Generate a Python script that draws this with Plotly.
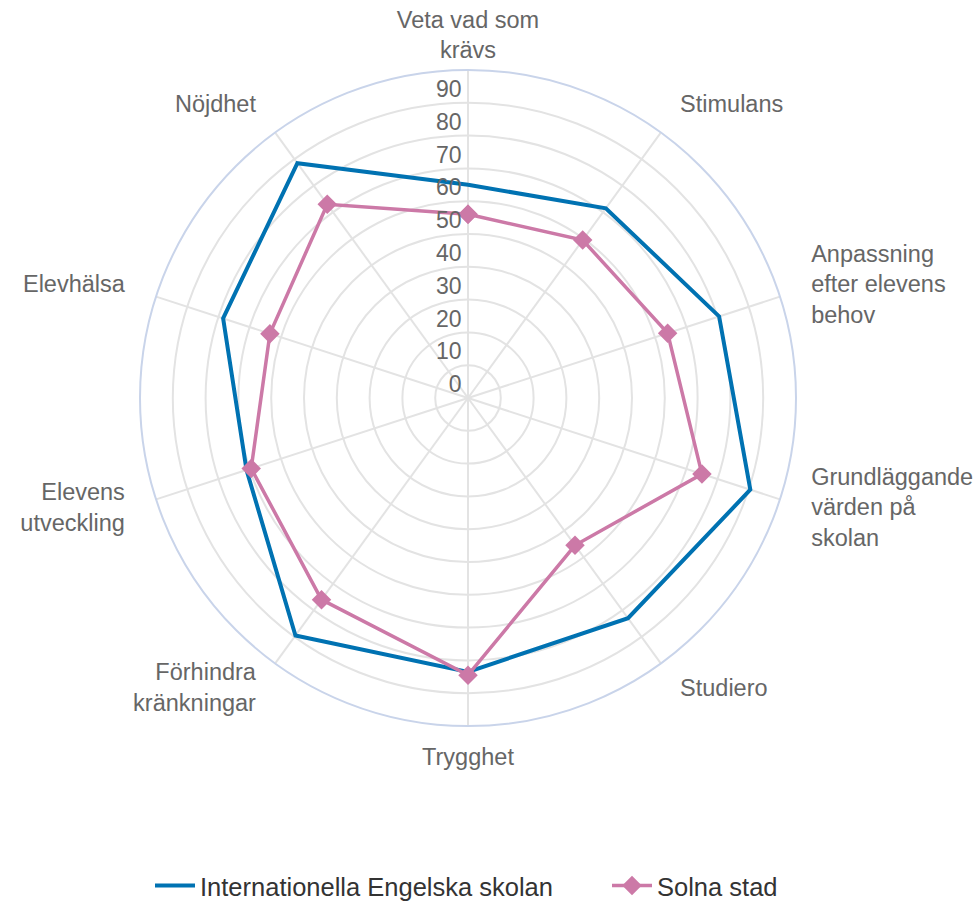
import plotly.graph_objects as go

categories = [
    "Veta vad som<br>krävs",
    "Stimulans",
    "Anpassning<br>efter elevens<br>behov",
    "Grundläggande<br>värden på<br>skolan",
    "Studiero",
    "Trygghet",
    "Förhindra<br>kränkningar",
    "Elevens<br>utveckling",
    "Elevhälsa",
    "Nöjdhet",
]
ies_values = [65, 71.5, 80.5, 90.5, 83, 83.5, 89.5, 71, 78.5, 88.5]
solna_values = [56, 59.5, 64, 75, 55.5, 84.5, 76, 69.5, 63.5, 73]
series_names = ["Internationella Engelska skolan", "Solna stad"]
radial_ticks = [0, 10, 20, 30, 40, 50, 60, 70, 80, 90]

BLUE = "#0072B2"
PINK = "#CC79A7"
FONT = "Liberation Sans, Arial, sans-serif"
R_MAX = 100
LABEL_R = 110  # category labels sit just outside the 0-100 circle

W, H = 977, 902
ML, MR, MT, MB = 20, 20, 20, 120
PW, PH = W - ML - MR, H - MT - MB

# chart circle geometry in pixels
CX, CY, RAD = 468, 398, 328
RAD_L = RAD * LABEL_R / R_MAX


def px_x(x):
    return (x - ML) / PW


def px_y(y):
    return (H - MB - y) / PH


def label_position(i, n):
    ang = 360.0 * i / n
    if ang == 0 or ang == 180:
        return "middle center"
    return "middle right" if ang < 180 else "middle left"


theta_closed = categories + categories[:1]

fig = go.Figure()
# category labels on a hidden, larger polar placed under the chart
fig.add_trace(go.Scatterpolar(
    r=[LABEL_R] * len(categories),
    theta=categories,
    mode="text",
    text=categories,
    textposition=[label_position(i, len(categories)) for i in range(len(categories))],
    textfont=dict(family=FONT, size=23.5, color="#666666"),
    cliponaxis=False,
    showlegend=False,
    hoverinfo="skip",
    subplot="polar",
))
fig.add_trace(go.Scatterpolar(
    r=ies_values + ies_values[:1],
    theta=theta_closed,
    mode="lines",
    name=series_names[0],
    line=dict(color=BLUE, width=4),
    subplot="polar2",
))
fig.add_trace(go.Scatterpolar(
    r=solna_values + solna_values[:1],
    theta=theta_closed,
    mode="lines+markers",
    name=series_names[1],
    line=dict(color=PINK, width=3.5),
    marker=dict(symbol="diamond", size=15, color=PINK),
    subplot="polar2",
))
# radial tick labels placed just above-left of each gridline crossing
fig.add_trace(go.Scatterpolar(
    r=radial_ticks,
    theta=[categories[0]] * len(radial_ticks),
    mode="text",
    text=[f"{t}\u00a0" for t in radial_ticks],
    textposition="top left",
    textfont=dict(family=FONT, size=23, color="#666666"),
    showlegend=False,
    hoverinfo="skip",
    subplot="polar2",
))

hidden_axis = dict(showticklabels=False, ticks="", showline=False, showgrid=False)

fig.update_layout(
    width=W,
    height=H,
    paper_bgcolor="white",
    plot_bgcolor="white",
    margin=dict(l=ML, r=MR, t=MT, b=MB, autoexpand=False),
    font=dict(family=FONT, color="#666666"),
    polar=dict(
        domain=dict(x=[px_x(CX - RAD_L), px_x(CX + RAD_L)],
                    y=[px_y(CY + RAD_L), px_y(CY - RAD_L)]),
        bgcolor="rgba(0,0,0,0)",
        radialaxis=dict(range=[0, LABEL_R], **hidden_axis),
        angularaxis=dict(
            rotation=90,
            direction="clockwise",
            categoryorder="array",
            categoryarray=categories,
            **hidden_axis,
        ),
    ),
    polar2=dict(
        domain=dict(x=[px_x(CX - RAD), px_x(CX + RAD)],
                    y=[px_y(CY + RAD), px_y(CY - RAD)]),
        bgcolor="white",
        radialaxis=dict(
            range=[0, R_MAX],
            tickvals=radial_ticks,
            showticklabels=False,
            ticks="",
            showline=False,
            gridcolor="#e3e3e3",
            gridwidth=1.5,
            angle=90,
        ),
        angularaxis=dict(
            rotation=90,
            direction="clockwise",
            categoryorder="array",
            categoryarray=categories,
            showticklabels=False,
            ticks="",
            showline=True,
            linecolor="#c9d4ea",
            linewidth=2,
            gridcolor="#e3e3e3",
            gridwidth=1.5,
        ),
    ),
    legend=dict(
        orientation="h",
        x=px_x(150),
        xanchor="left",
        y=px_y(886),
        yanchor="middle",
        font=dict(family=FONT, size=25.5, color="#333333"),
        itemwidth=40,
        entrywidth=402,
        entrywidthmode="pixels",
    ),
)

fig.write_html(
    "out.html",
    config={"displayModeBar": False},
    post_script="document.body.style.margin='0';document.body.style.overflow='hidden';",
)
